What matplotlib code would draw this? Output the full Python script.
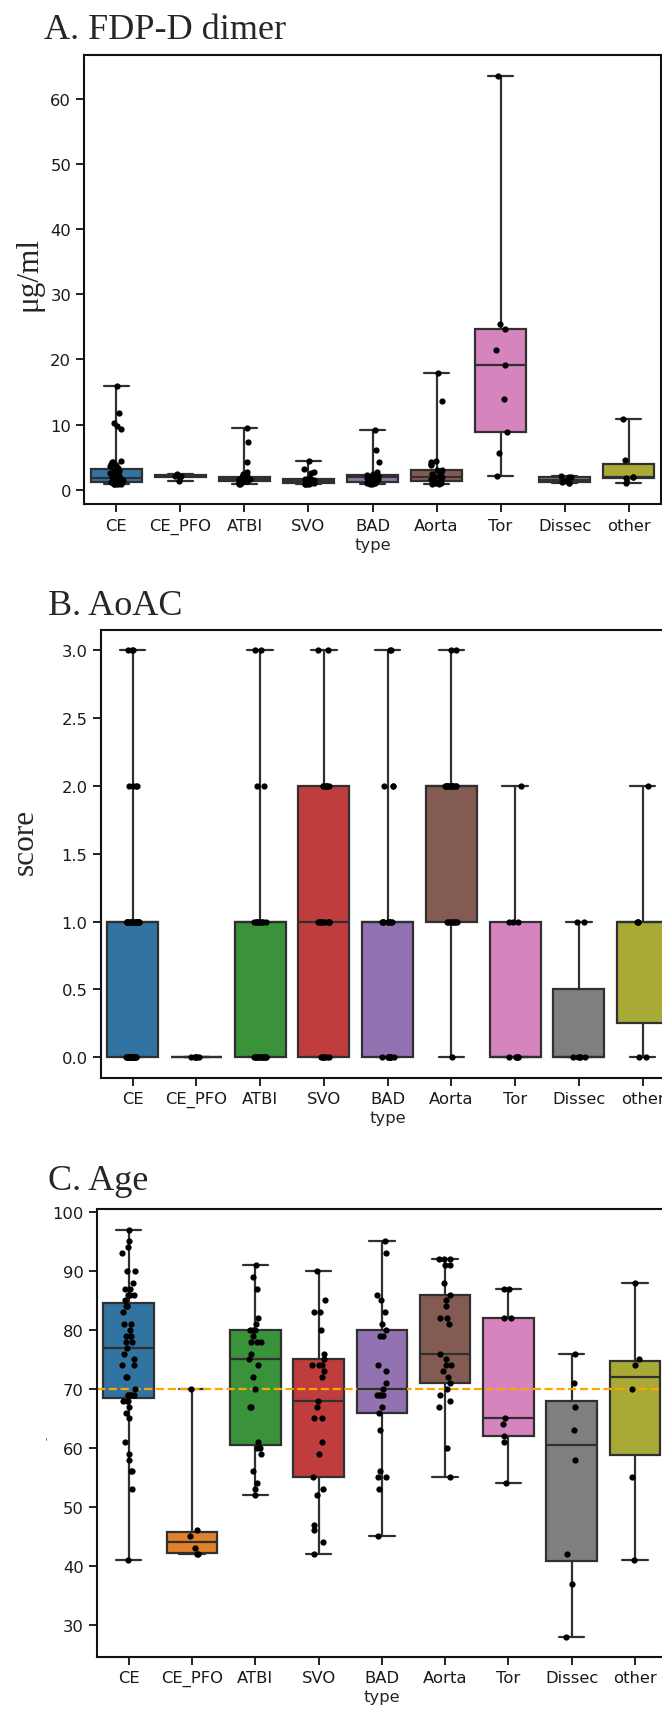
import numpy as np
import pandas as pd
import matplotlib
matplotlib.use("Agg")
import matplotlib.pyplot as plt
import seaborn as sns

# ---------------- data ----------------
types = ["CE", "CE_PFO", "ATBI", "SVO", "BAD", "Aorta", "Tor", "Dissec", "other"]
palette = ["#1f77b4", "#ff7f0e", "#2ca02c", "#d62728", "#9467bd",
           "#8c564b", "#e377c2", "#7f7f7f", "#bcbd22"]

# A. FDP-D dimer (ug/ml)
fdp_CE = [16.0, 11.8, 10.2, 9.8, 9.4, 4.5, 4.3, 4.2, 4.0, 3.8, 3.6, 3.4, 3.3, 3.0,
          2.9, 2.7, 2.6, 2.5, 2.4, 2.3, 2.2, 2.1, 2.0, 1.9, 1.8, 1.8, 1.7, 1.6, 1.6,
          1.5, 1.5, 1.4, 1.4, 1.3, 1.3, 1.2, 1.2, 1.2, 1.1, 1.1, 1.1, 1.0, 1.0, 1.0,
          1.0, 0.9, 0.9, 0.9, 0.9, 0.9]
fdp_CE_PFO = [2.4, 2.3, 2.2, 2.1, 1.9, 1.4]
fdp_ATBI = [9.5, 7.3, 4.2, 2.7, 2.4, 2.2, 1.95, 1.9, 1.9, 1.8, 1.7, 1.7, 1.6, 1.5,
            1.5, 1.4, 1.4, 1.3, 1.3, 1.2, 1.1, 1.1, 1.0, 0.9, 0.9]
fdp_SVO = [4.4, 3.2, 2.7, 2.6, 1.8, 1.7, 1.6, 1.5, 1.4, 1.4, 1.3, 1.3, 1.2, 1.1,
           1.0, 1.0, 0.9, 0.9, 0.9, 0.9]
fdp_BAD = [9.2, 6.1, 4.2, 2.7, 2.5, 2.3, 2.2, 2.1, 2.0, 2.0, 1.9, 1.9, 1.9, 1.8,
           1.7, 1.6, 1.4, 1.2, 1.1, 1.1, 1.0, 1.0, 0.9, 0.9]
fdp_Aorta = [17.9, 13.7, 4.4, 4.2, 4.0, 3.8, 3.1, 3.0, 2.8, 2.5, 2.3, 2.1, 1.9, 1.8,
             1.6, 1.5, 1.4, 1.3, 1.3, 1.2, 1.1, 1.0, 1.0, 0.9, 0.9]
fdp_Tor = [63.5, 25.5, 24.7, 21.5, 19.2, 14.0, 8.8, 5.7, 2.1]
fdp_Dissec = [2.2, 1.9, 1.9, 1.5, 1.4, 1.2, 1.1, 1.0]
fdp_other = [10.8, 4.6, 2.0, 1.95, 1.8, 1.0]

# B. AoAC score
aoac_CE = [3, 3, 3, 2, 2, 2, 2,
           1, 1, 1, 1, 1, 1, 1, 1, 1, 1, 1, 1, 1, 1, 1, 1, 1, 1, 1, 1, 1, 1,
           0, 0, 0, 0, 0, 0, 0, 0, 0, 0, 0, 0, 0, 0, 0, 0, 0, 0, 0, 0, 0, 0]
aoac_CE_PFO = [0, 0, 0, 0, 0, 0]
aoac_ATBI = [3, 3, 2, 2, 1, 1, 1, 1, 1, 1, 1, 1, 1, 1,
             0, 0, 0, 0, 0, 0, 0, 0, 0, 0, 0, 0, 0]
aoac_SVO = [3, 3, 2, 2, 2, 2, 2, 2, 1, 1, 1, 1, 1, 1, 1, 1, 1, 1,
            0, 0, 0, 0, 0, 0, 0]
aoac_BAD = [3, 3, 2, 2, 2, 1, 1, 1, 1, 1, 1, 1, 1, 1, 1, 1,
            0, 0, 0, 0, 0, 0, 0, 0, 0]
aoac_Aorta = [3, 3, 2, 2, 2, 2, 2, 2, 2, 2, 2, 2, 2, 2, 2, 2,
              1, 1, 1, 1, 1, 1, 1, 1, 0]
aoac_Tor = [2, 1, 1, 1, 0, 0, 0, 0, 0]
aoac_Dissec = [1, 1, 0, 0, 0, 0, 0]
aoac_other = [2, 1, 1, 1, 0, 0]

# C. Age
age_CE = [97, 95, 94, 93, 90, 90, 88, 87, 87, 86, 86, 86, 85, 84, 84, 84, 83, 81,
          81, 80, 79, 79, 79, 78, 78, 77, 76, 75, 74, 74, 72, 72, 70, 69, 69, 69,
          69, 69, 68, 68, 68, 67, 66, 65, 61, 59, 58, 56, 56, 53, 41]
age_CE_PFO = [70, 46, 45, 43, 42, 42]
age_ATBI = [91, 89, 87, 82, 81, 80, 80, 80, 79, 78, 78, 78, 76, 75, 74, 72, 70, 67,
            67, 61, 60, 60, 59, 56, 54, 53, 52]
age_SVO = [90, 85, 83, 83, 80, 76, 75, 74, 74, 74, 73, 72, 68, 67, 65, 65, 61, 59,
           55, 53, 52, 47, 46, 44, 42]
age_BAD = [95, 93, 86, 85, 83, 81, 80, 79, 79, 74, 73, 71, 70, 69, 69, 69, 69, 67,
           66, 63, 56, 55, 55, 53, 45]
age_Aorta = [92, 92, 92, 91, 91, 88, 86, 85, 84, 82, 82, 81, 76, 75, 74, 74, 73, 72,
             71, 70, 69, 68, 67, 60, 55]
age_Tor = [87, 87, 82, 82, 65, 64, 62, 61, 54]
age_Dissec = [76, 71, 67, 63, 58, 42, 37, 28]
age_other = [88, 75, 74, 70, 55, 41]
age_threshold = 70

fdp_ticks = [0, 10, 20, 30, 40, 50, 60]
aoac_ticks = [0.0, 0.5, 1.0, 1.5, 2.0, 2.5, 3.0]
age_ticks = [30, 40, 50, 60, 70, 80, 90, 100]

panels = [
    ("A. FDP-D dimer", "\u03bcg/ml",
     [fdp_CE, fdp_CE_PFO, fdp_ATBI, fdp_SVO, fdp_BAD, fdp_Aorta, fdp_Tor, fdp_Dissec, fdp_other],
     fdp_ticks, None),
    ("B. AoAC", "score",
     [aoac_CE, aoac_CE_PFO, aoac_ATBI, aoac_SVO, aoac_BAD, aoac_Aorta, aoac_Tor, aoac_Dissec, aoac_other],
     aoac_ticks, "%.1f"),
    ("C. Age", "-",
     [age_CE, age_CE_PFO, age_ATBI, age_SVO, age_BAD, age_Aorta, age_Tor, age_Dissec, age_other],
     age_ticks, None),
]

# ---------------- style ----------------
sns.set_style("ticks")
plt.rcParams["font.family"] = ["DejaVu Sans"]
plt.rcParams["axes.linewidth"] = 1.5
plt.rcParams["axes.edgecolor"] = "#111111"

W, H = 662, 1715
fig = plt.figure(figsize=(W / 100, H / 100), dpi=100)

# axes boxes in pixels: left, top, right, bottom
ax_boxes = [(84.4, 56.4, 660.6, 505.4),
            (100.8, 630.7, 674.5, 1078.6),
            (97.0, 1210.3, 666.7, 1658.0)]
title_pos = [(44, 39), (48, 615), (48, 1190)]
ylabel_pos = [(28.5, 274), (25, 842), (47, 1439)]
ylabel_size = [22.5, 22.5, 6]
ylabel_family = ["Liberation Serif", "Liberation Serif", "DejaVu Sans"]

np.random.seed(3)
for i, (title, ylab, groups, ticks, fmt) in enumerate(panels):
    l, t, r, b = ax_boxes[i]
    ax = fig.add_axes([l / W, 1 - b / H, (r - l) / W, (b - t) / H])
    df = pd.DataFrame({
        "type": [tp for tp, g in zip(types, groups) for _ in g],
        "value": [v for g in groups for v in g],
    })
    sns.boxplot(data=df, x="type", y="value", hue="type", order=types,
                hue_order=types, palette=palette, whis=(0, 100),
                showfliers=False, linewidth=1.6, linecolor="#303030",
                legend=False, ax=ax)
    sns.stripplot(data=df, x="type", y="value", order=types, color="black",
                  size=4.5, jitter=True, ax=ax)
    if i == 2:
        ax.axhline(age_threshold, color="orange", ls="--", lw=1.6)
    ax.set_yticks(ticks)
    if fmt:
        ax.set_yticklabels([fmt % v for v in ticks])
    ax.set_xlabel("type", fontsize=11.8, labelpad=2)
    ax.set_ylabel(ylab, fontsize=ylabel_size[i], family=ylabel_family[i],
                  va="center", ha="center")
    ax.yaxis.set_label_coords(ylabel_pos[i][0] / W, 1 - ylabel_pos[i][1] / H,
                              transform=fig.transFigure)
    ax.tick_params(axis="both", labelsize=11.8, length=6, width=1.3,
                   color="#111111", labelcolor="#1a1a1a")
    for s in ax.spines.values():
        s.set_visible(True)
    fig.text(title_pos[i][0] / W, 1 - title_pos[i][1] / H, title,
             family="Liberation Serif", fontsize=26, ha="left", va="baseline")

fig.savefig("out.png", dpi=100)
